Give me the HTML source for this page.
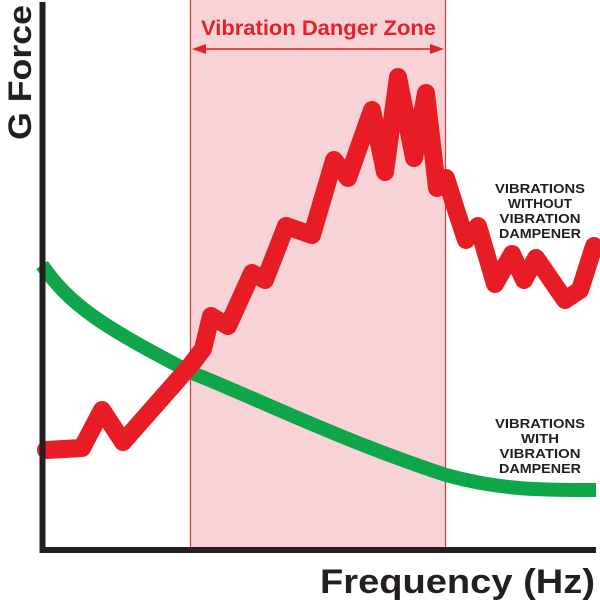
<!DOCTYPE html>
<html><head><meta charset="utf-8"><style>
html,body{margin:0;padding:0;background:#fff;width:600px;height:600px;overflow:hidden}
</style></head><body>
<svg width="600" height="600" viewBox="0 0 600 600" xmlns="http://www.w3.org/2000/svg">
<rect x="190" y="0" width="256" height="548" fill="#f8d3d5"/>
<line x1="190.5" y1="0" x2="190.5" y2="548" stroke="#d9373f" stroke-width="1.2"/>
<line x1="445.5" y1="0" x2="445.5" y2="548" stroke="#d9373f" stroke-width="1.2"/>
<line x1="200" y1="49" x2="436" y2="49" stroke="#e3212b" stroke-width="1.5"/>
<polygon points="192,49 206,44 206,54" fill="#e3212b"/>
<polygon points="444,49 430,44 430,54" fill="#e3212b"/>
<text x="201" y="35" textLength="235" lengthAdjust="spacingAndGlyphs" font-family="Liberation Sans, sans-serif" font-weight="bold" font-size="21" fill="#e3212b">Vibration Danger Zone</text>
<path d="M42,265 C70,305 100,325 190,372 C260,400 340,440 446,475 C500,490 540,490 596,490" fill="none" stroke="#0fa64a" stroke-width="14"/>
<polyline points="46,450 82,448 102,410 123,442 190,366 203,349 211,316 228,326 252,273 265,280 286,226 312,235 334,160 348,178 372,110 385,172 398,77 414,158 426,93 437,188 446,178 458,216 466,240 478,226 495,284 512,254 524,280 536,258 565,300 580,290 594,246" fill="none" stroke="#e81c25" stroke-width="18" stroke-linejoin="round" stroke-linecap="round"/>
<line x1="42.5" y1="2" x2="42.5" y2="553" stroke="#231f20" stroke-width="6"/>
<line x1="40" y1="550" x2="596" y2="550" stroke="#231f20" stroke-width="6"/>
<text transform="translate(31,140) rotate(-90)" textLength="135" lengthAdjust="spacingAndGlyphs" font-family="Liberation Sans, sans-serif" font-weight="bold" font-size="32" fill="#231f20">G Force</text>
<text x="320" y="593" textLength="275" lengthAdjust="spacingAndGlyphs" font-family="Liberation Sans, sans-serif" font-weight="bold" font-size="34" fill="#231f20">Frequency (Hz)</text>
<g font-family="Liberation Sans, sans-serif" font-weight="bold" font-size="13" fill="#231f20" text-anchor="middle" lengthAdjust="spacingAndGlyphs">
<text x="540" y="193" textLength="90" lengthAdjust="spacingAndGlyphs">VIBRATIONS</text>
<text x="540" y="208" textLength="64" lengthAdjust="spacingAndGlyphs">WITHOUT</text>
<text x="540" y="223" textLength="81" lengthAdjust="spacingAndGlyphs">VIBRATION</text>
<text x="540" y="238" textLength="82" lengthAdjust="spacingAndGlyphs">DAMPENER</text>
<text x="540" y="428" textLength="90" lengthAdjust="spacingAndGlyphs">VIBRATIONS</text>
<text x="540" y="443" textLength="38" lengthAdjust="spacingAndGlyphs">WITH</text>
<text x="540" y="458" textLength="81" lengthAdjust="spacingAndGlyphs">VIBRATION</text>
<text x="540" y="473" textLength="82" lengthAdjust="spacingAndGlyphs">DAMPENER</text>
</g>
</svg>
</body></html>
